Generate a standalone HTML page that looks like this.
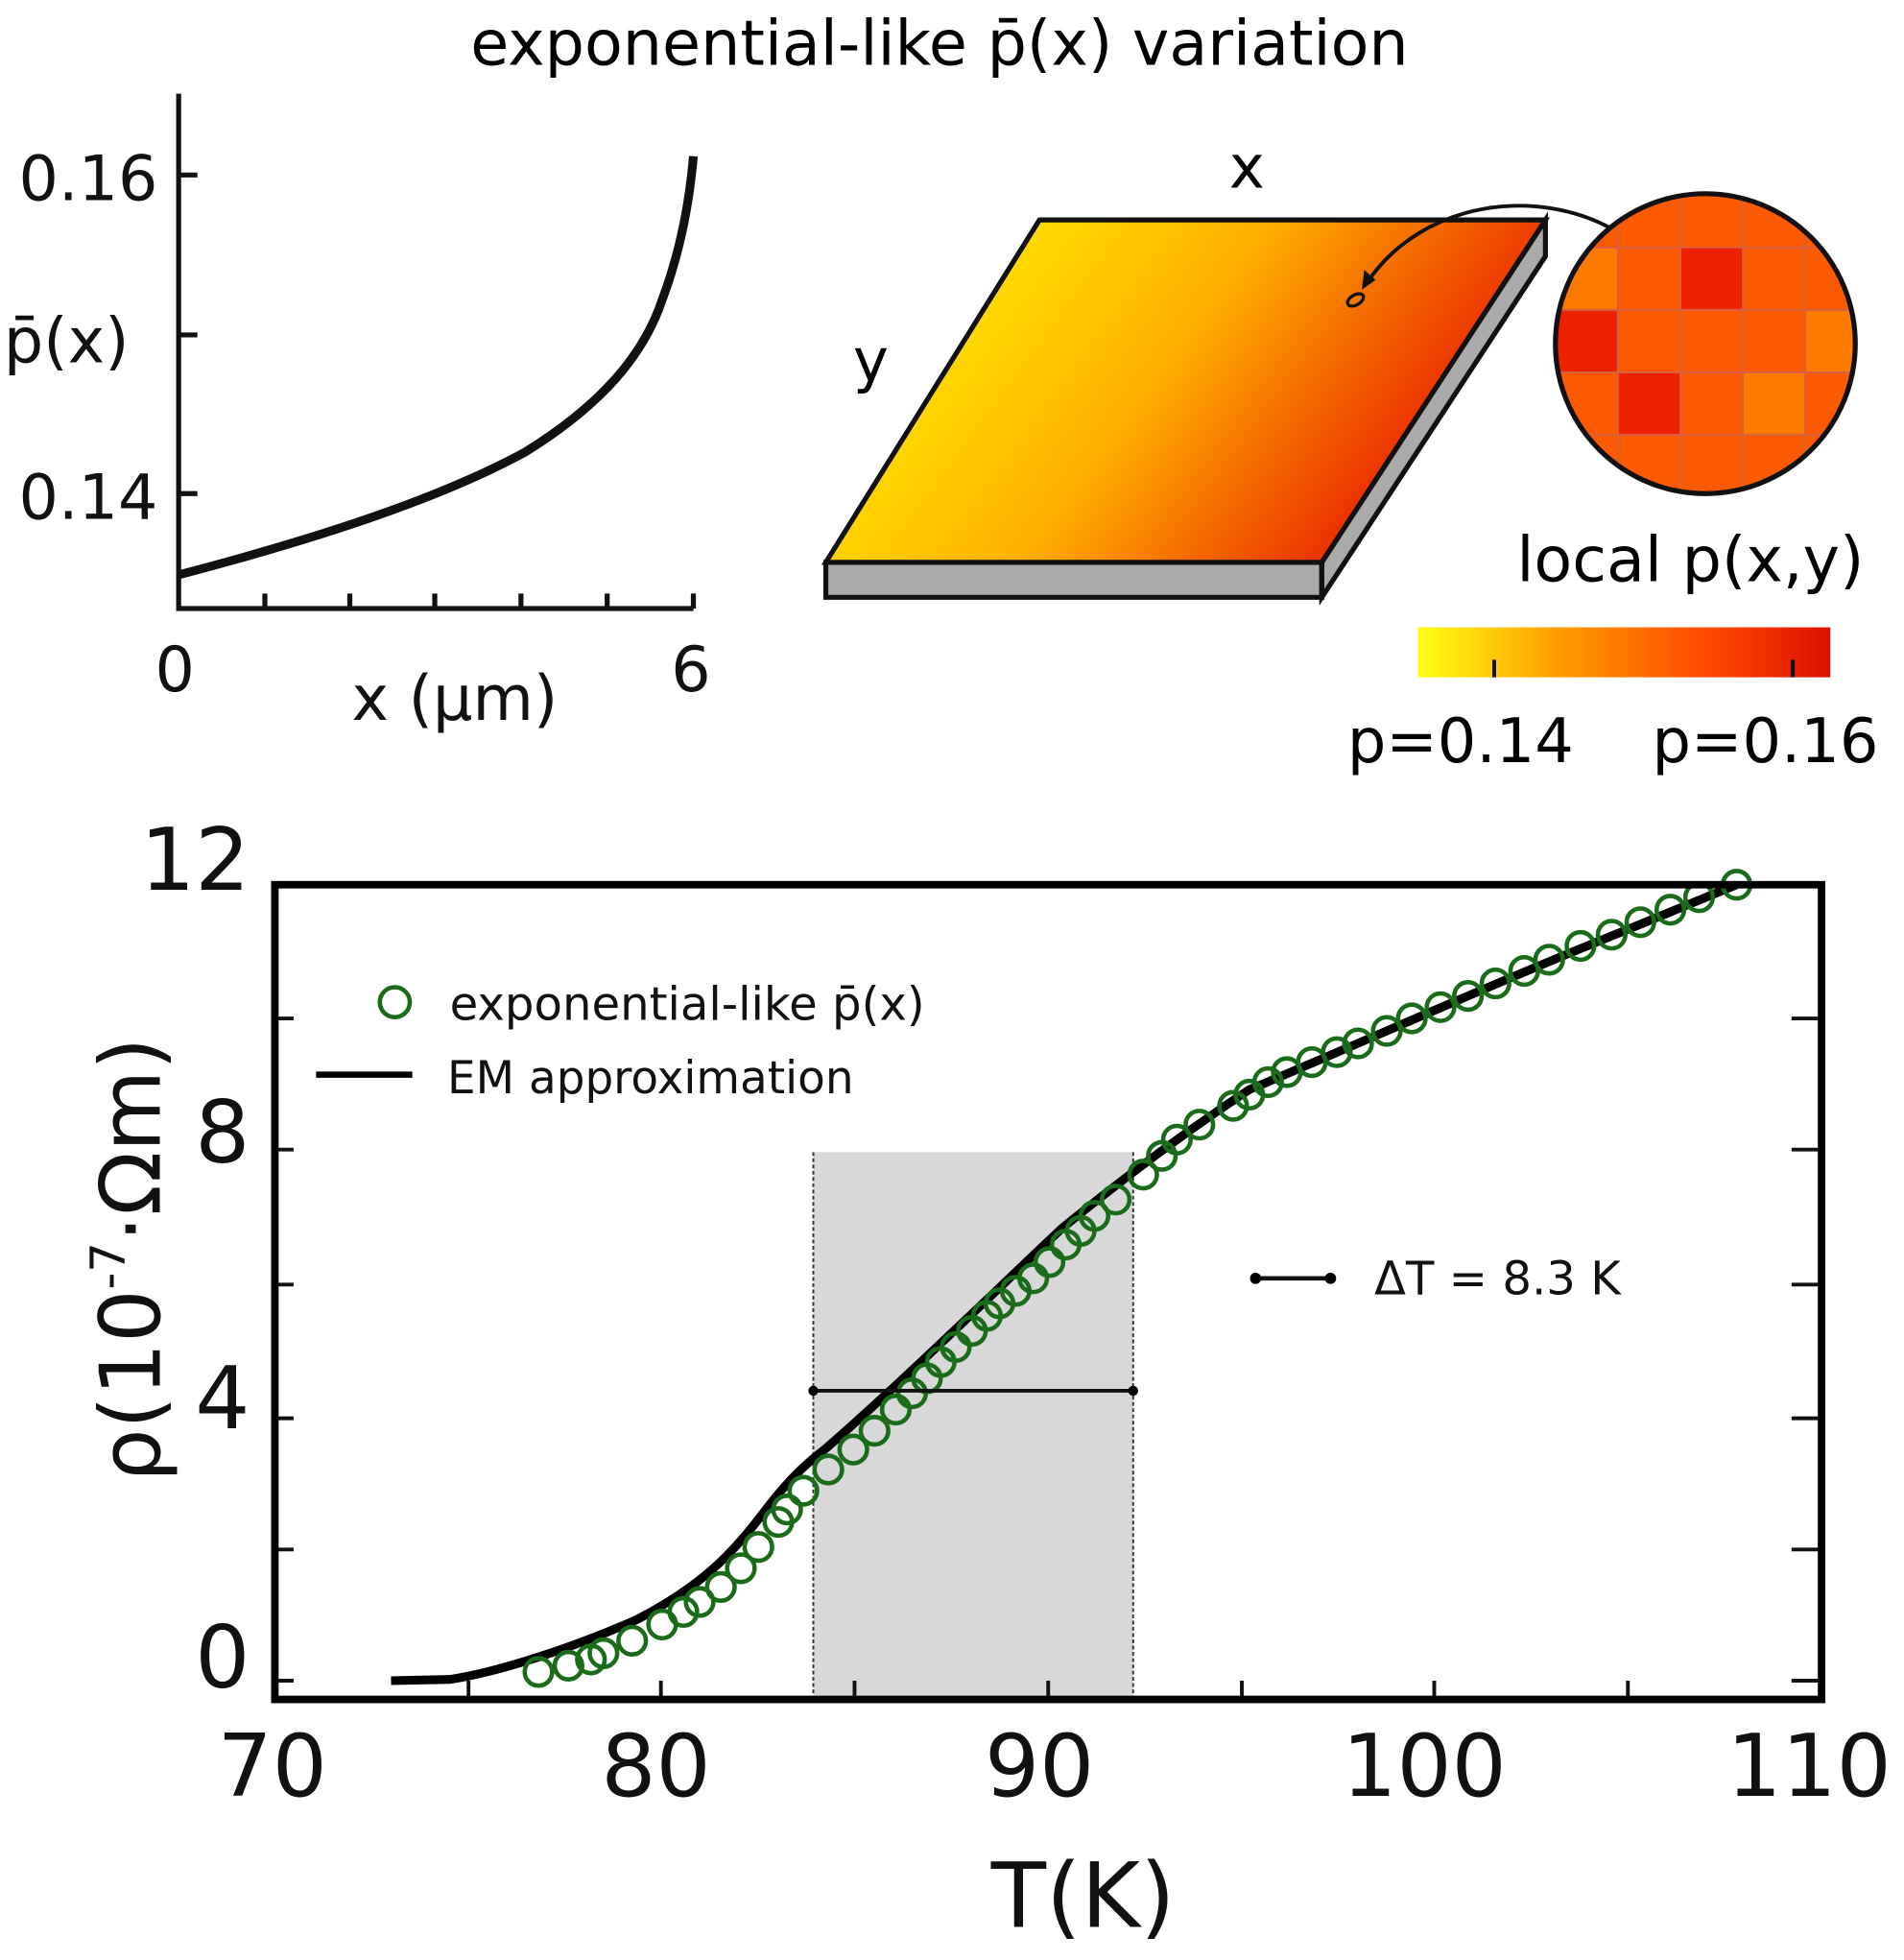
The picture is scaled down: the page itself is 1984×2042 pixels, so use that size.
<!DOCTYPE html>
<html><head><meta charset="utf-8"><style>html,body{margin:0;padding:0;background:#fff}svg{display:block}</style></head>
<body>
<svg width="1984" height="2042" viewBox="0 0 1524 1568.5" xmlns="http://www.w3.org/2000/svg" font-family="DejaVu Sans, Liberation Sans, sans-serif">
<defs>
<linearGradient id="slab" x1="0" y1="0" x2="1" y2="0.35">
<stop offset="0" stop-color="#ffff00"/><stop offset="0.55" stop-color="#ffb000"/><stop offset="1" stop-color="#e81800"/></linearGradient>
<linearGradient id="cb" x1="0" y1="0" x2="1" y2="0">
<stop offset="0" stop-color="#ffff10"/><stop offset="0.35" stop-color="#ff9a00"/><stop offset="0.7" stop-color="#ff4a00"/><stop offset="1" stop-color="#dd1000"/></linearGradient>
<clipPath id="cc"><circle cx="1365" cy="275" r="120"/></clipPath>
</defs>
<text x="752" y="52" font-size="50" text-anchor="middle">exponential-like p̄(x) variation</text>
<g stroke="#111" stroke-width="4" fill="none">
<path d="M143,75 V487 H555"/>
<path d="M143,140 h15 M143,268 h15 M143,395 h15"/>
<path d="M212,487 v-12 M280,487 v-12 M348,487 v-12 M417,487 v-12 M486,487 v-12 M555,487 v-12"/>
<path d="M143,460 C250,432 350,400 420,362 C480,325 515,285 530,240 C545,200 552,160 555,125" stroke-width="7"/>
</g>
<g font-size="50" fill="#111">
<text x="15" y="160">0.16</text><text x="15" y="415">0.14</text>
<text x="3" y="290">p̄(x)</text>
<text x="140" y="553" text-anchor="middle">0</text><text x="553" y="553" text-anchor="middle">6</text>
<text x="364" y="576" text-anchor="middle">x (μm)</text>
</g>
<polygon points="661,450 1058,450 1058,478 661,478" fill="#aaa" stroke="#111" stroke-width="4"/>
<polygon points="1237,176 1237,205 1058,478 1058,450" fill="#aaa" stroke="#111" stroke-width="4"/>
<polygon points="832,176 1237,176 1058,450 661,450" fill="url(#slab)" stroke="#111" stroke-width="4"/>
<text x="998" y="150" font-size="48" text-anchor="middle">x</text>
<text x="697" y="305" font-size="48" text-anchor="middle">y</text>
<ellipse cx="1085" cy="240" rx="7" ry="4" fill="none" stroke="#111" stroke-width="2.5" transform="rotate(-30 1085 240)"/>
<path d="M1290,183 C1230,150 1140,160 1095,225" fill="none" stroke="#111" stroke-width="3"/>
<path d="M1090,232 l2,-16 l9,8 z" fill="#111"/>
<g clip-path="url(#cc)">
<rect x="1240" y="150" width="260" height="260" fill="#fb5a00"/>
<g fill="#ee2200"><rect x="1345" y="198" width="50" height="50"/><rect x="1245" y="248" width="50" height="50"/><rect x="1295" y="298" width="50" height="50"/></g>
<g fill="#ff7a00"><rect x="1245" y="198" width="50" height="50"/><rect x="1445" y="248" width="50" height="50"/><rect x="1395" y="298" width="50" height="50"/></g>
<g stroke="#d86040" stroke-width="1.5">
<path d="M1245,150 V400 M1295,150 V400 M1345,150 V400 M1395,150 V400 M1445,150 V400 M1240,198 H1490 M1240,248 H1490 M1240,298 H1490 M1240,348 H1490"/></g>
</g>
<circle cx="1365" cy="275" r="120" fill="none" stroke="#111" stroke-width="4"/>
<text x="1353" y="465" font-size="50" text-anchor="middle">local p(x,y)</text>
<rect x="1135" y="502" width="330" height="40" fill="url(#cb)"/>
<path d="M1196,542 v-14 M1435,542 v-14" stroke="#111" stroke-width="3"/>
<text x="1169" y="610" font-size="49" text-anchor="middle">p=0.14</text>
<text x="1413" y="610" font-size="49" text-anchor="middle">p=0.16</text>
<rect x="651" y="922" width="256" height="438" fill="#d8d8d8"/>
<path d="M651,922 V1360 M907,922 V1360" stroke="#333" stroke-width="1.5" stroke-dasharray="3,2"/>
<g stroke="#111" stroke-width="3">
<path d="M220,1345 h15 M220,1240 h15 M220,1135 h15 M220,1028 h15 M220,920 h15 M220,815 h15 M1458,1345 h-24 M1458,1240 h-24 M1458,1135 h-24 M1458,1028 h-24 M1458,920 h-24 M1458,815 h-24"/>
<path d="M375,1360 v-15 M529,1360 v-15 M684,1360 v-15 M839,1360 v-15 M994,1360 v-15 M1148,1360 v-15 M1303,1360 v-15"/>
</g>
<path d="M313,1345 L360,1344 C400,1338 460,1318 510,1296 C560,1270 585,1245 610,1212 C625,1192 640,1175 660,1160 C720,1108 800,1030 850,983 C900,942 950,905 1000,872 C1100,830 1200,785 1300,745 L1390,708" fill="none" stroke="#000" stroke-width="7"/>
<g fill="none" stroke="#1a6b1a" stroke-width="3.5">
<circle cx="431" cy="1338" r="11"/><circle cx="455" cy="1333" r="11"/><circle cx="473" cy="1328" r="11"/><circle cx="483" cy="1323" r="11"/><circle cx="506" cy="1313" r="11"/><circle cx="530" cy="1300" r="11"/><circle cx="547" cy="1290" r="11"/><circle cx="560" cy="1282" r="11"/><circle cx="577" cy="1270" r="11"/><circle cx="593" cy="1255" r="11"/><circle cx="607" cy="1238" r="11"/><circle cx="623" cy="1218" r="11"/><circle cx="630" cy="1208" r="11"/><circle cx="643" cy="1193" r="11"/><circle cx="663" cy="1176" r="11"/><circle cx="683" cy="1160" r="11"/><circle cx="700" cy="1145" r="11"/><circle cx="717" cy="1128" r="11"/><circle cx="730" cy="1115" r="11"/><circle cx="742" cy="1103" r="11"/><circle cx="753" cy="1090" r="11"/><circle cx="765" cy="1078" r="11"/><circle cx="778" cy="1065" r="11"/><circle cx="790" cy="1053" r="11"/><circle cx="800" cy="1043" r="11"/><circle cx="813" cy="1033" r="11"/><circle cx="827" cy="1023" r="11"/><circle cx="840" cy="1010" r="11"/><circle cx="853" cy="996" r="11"/><circle cx="865" cy="985" r="11"/><circle cx="876" cy="973" r="11"/><circle cx="893" cy="960" r="11"/><circle cx="915" cy="940" r="11"/><circle cx="930" cy="925" r="11"/><circle cx="942" cy="912" r="11"/><circle cx="960" cy="900" r="11"/><circle cx="987" cy="885" r="11"/><circle cx="1000" cy="876" r="11"/><circle cx="1015" cy="866" r="11"/><circle cx="1030" cy="858" r="11"/><circle cx="1050" cy="850" r="11"/><circle cx="1070" cy="842" r="11"/><circle cx="1087" cy="835" r="11"/><circle cx="1110" cy="825" r="11"/><circle cx="1130" cy="815" r="11"/><circle cx="1153" cy="806" r="11"/><circle cx="1175" cy="797" r="11"/><circle cx="1197" cy="787" r="11"/><circle cx="1220" cy="777" r="11"/><circle cx="1240" cy="768" r="11"/><circle cx="1265" cy="757" r="11"/><circle cx="1290" cy="748" r="11"/><circle cx="1313" cy="738" r="11"/><circle cx="1337" cy="728" r="11"/><circle cx="1360" cy="718" r="11"/><circle cx="1390" cy="708" r="11"/>
<circle cx="316" cy="802" r="12"/>
</g>
<path d="M651,1113 H907" stroke="#111" stroke-width="3"/>
<circle cx="651" cy="1113" r="4"/><circle cx="907" cy="1113" r="4"/>
<path d="M1005,1023 H1065" stroke="#111" stroke-width="3.5"/>
<circle cx="1005" cy="1023" r="4.5"/><circle cx="1065" cy="1023" r="4.5"/>
<text x="1100" y="1036" font-size="37" fill="#111">ΔT = 8.3 K</text>
<path d="M253,860 H330" stroke="#000" stroke-width="5"/>
<text x="360" y="816" font-size="37" fill="#111">exponential-like p̄(x)</text>
<text x="358" y="875" font-size="36" fill="#111">EM approximation</text>
<rect x="220" y="708" width="1238" height="652" fill="none" stroke="#000" stroke-width="6"/>
<g font-size="69" fill="#111" text-anchor="middle">
<text x="218" y="1437">70</text><text x="525" y="1437">80</text><text x="832" y="1437">90</text><text x="1140" y="1437">100</text><text x="1448" y="1437">110</text>
<text x="200" y="1350" text-anchor="end">0</text><text x="200" y="1143" text-anchor="end">4</text><text x="200" y="930" text-anchor="end">8</text><text x="200" y="712" text-anchor="end">12</text>
<text x="867" y="1542" font-size="72">T(K)</text>
<text transform="translate(128,1008) rotate(-90)" font-size="67">ρ(10<tspan font-size="38" dy="-28">-7</tspan><tspan dy="28">·Ωm)</tspan></text>
</g>
</svg>
</body></html>
